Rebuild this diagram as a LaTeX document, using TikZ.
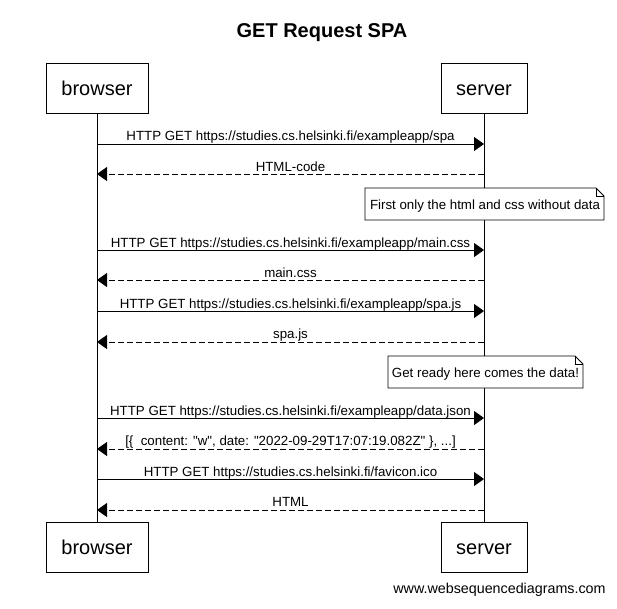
\documentclass[tikz,border=0pt]{standalone}
\usepackage{fontspec}
\setmainfont{Liberation Sans}[Ligatures=TeXOff]
\usetikzlibrary{arrows.meta}
\begin{document}
\begin{tikzpicture}[x=1pt,y=-1pt,
  actor/.style={draw,line width=0.8pt,fill=white,minimum height=50pt,inner sep=0pt,text height=16.5pt,text depth=2.5pt,font=\fontsize{20}{24}\selectfont},
  msg/.style={line width=0.8pt,-{Triangle[length=10pt,width=14pt]}},
  reply/.style={msg,dash pattern=on 6pt off 3pt},
  lbl/.style={font=\fontsize{13.3}{16}\selectfont,inner sep=0pt,anchor=base},
  notetext/.style={font=\fontsize{13.3}{16}\selectfont,inner sep=0pt},
  lifeline/.style={line width=0.8pt}]
\useasboundingbox (0,0) rectangle (617,608);
\fill[white] (0,0) rectangle (617,608);
\node[font=\bfseries\fontsize{20}{24}\selectfont] (title) at (322,33) {GET Request SPA};
\node[actor,minimum width=102pt] (bt) at (97,88) {browser};
\node[actor,minimum width=86pt] (st) at (484,88) {server};
\node[actor,minimum width=102pt] (bb) at (97,547) {browser};
\node[actor,minimum width=86pt] (sb) at (484,547) {server};
\draw[lifeline] (bt.south) -- (bb.north);
\draw[lifeline] (st.south) -- (sb.north);
% coordinates on lifelines
\foreach \i/\y in {1/144,2/174,3/250,4/280,5/311,6/342,7/418,8/449,9/479,10/510}{
  \coordinate (b\i) at (97,\y);
  \coordinate (s\i) at (484,\y);
}
\draw[msg] (b1) -- (s1);
\node[lbl] (l1) at (290.5,140) {HTTP GET https://studies.cs.helsinki.fi/exampleapp/spa};
\draw[reply] (s2) -- (b2);
\node[lbl] (l2) at (290.5,171) {HTML-code};
% note 1
\draw[line width=0.8pt,fill=white] (365,188) -- (596,188) -- (604,196) -- (604,220) -- (365,220) -- cycle;
\draw[line width=0.8pt] (596,188) -- (596,196) -- (604,196);
\node[notetext] (n1) at (485,206) {First only the html and css without data};
\draw[msg] (b3) -- (s3);
\node[lbl] (l3) at (290.5,247) {HTTP GET https://studies.cs.helsinki.fi/exampleapp/main.css};
\draw[reply] (s4) -- (b4);
\node[lbl] (l4) at (290.5,277) {main.css};
\draw[msg] (b5) -- (s5);
\node[lbl] (l5) at (290.5,308) {HTTP GET https://studies.cs.helsinki.fi/exampleapp/spa.js};
\draw[reply] (s6) -- (b6);
\node[lbl] (l6) at (290.5,338) {spa.js};
% note 2
\draw[line width=0.8pt,fill=white] (388,356) -- (575,356) -- (583,364) -- (583,388) -- (388,388) -- cycle;
\draw[line width=0.8pt] (575,356) -- (575,364) -- (583,364);
\node[notetext] (n2) at (485.5,374) {Get ready here comes the data!};
\draw[msg] (b7) -- (s7);
\node[lbl] (l7) at (290.5,415) {HTTP GET https://studies.cs.helsinki.fi/exampleapp/data.json};
\draw[reply] (s8) -- (b8);
\node[lbl] (l8) at (290.5,445) {[\{\ \ content: "w", date: "2022-09-29T17:07:19.082Z" \}, ...]};
\draw[msg] (b9) -- (s9);
\node[lbl] (l9) at (290.5,476) {HTTP GET https://studies.cs.helsinki.fi/favicon.ico};
\draw[reply] (s10) -- (b10);
\node[lbl] (l10) at (290.5,506) {HTML};
\node[font=\fontsize{14.3}{17}\selectfont] (wm) at (499.5,590) {www.websequencediagrams.com};
\end{tikzpicture}
\end{document}
